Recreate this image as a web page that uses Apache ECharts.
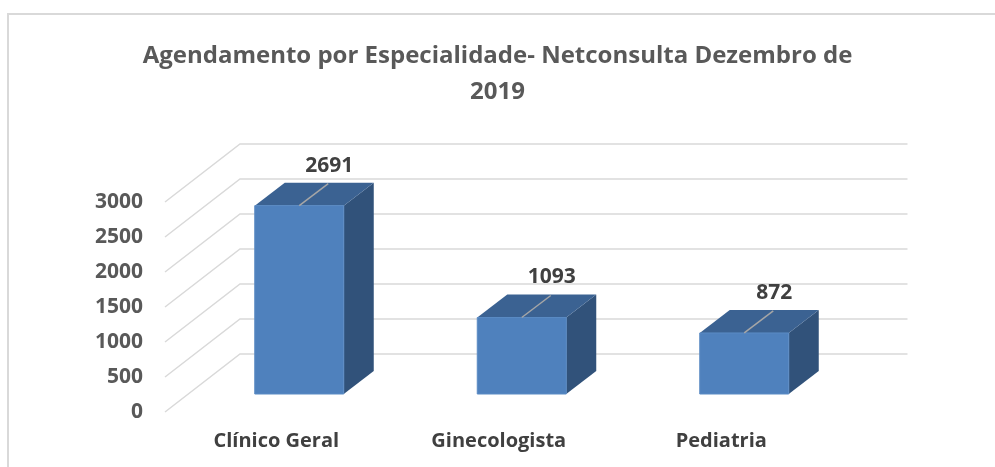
<!DOCTYPE html>
<html>
<head>
<meta charset="utf-8">
<script src="https://cdn.jsdelivr.net/npm/echarts@6/dist/echarts.min.js"></script>
<style>
  html, body { margin: 0; padding: 0; background: #fff; }
  #mainChart { width: 995px; height: 467px; }
</style>
</head>
<body>
<div id="mainChart"></div>
<script>
var categories = ['Clínico Geral', 'Ginecologista', 'Pediatria'];
var values = [2691, 1093, 872];
var tickValues = [0, 500, 1000, 1500, 2000, 2500, 3000];

var fontFamily = '"Open Sans", "Liberation Sans", sans-serif';
var floorDepth = [75, -58];   // front-left floor corner -> back wall
var barDepth = [30, -23];     // depth of each box

var myChart = echarts.init(document.getElementById('mainChart'));

// wall / floor grid lines drawn in perspective
function renderGridLine(params, api) {
    var cs = params.coordSys;
    var p = api.coord([0, api.value(1)]);
    var x0 = cs.x, y = p[1];
    return {
        type: 'polyline',
        shape: {
            points: [
                [x0, y],
                [x0 + floorDepth[0], y + floorDepth[1]],
                [x0 + cs.width + floorDepth[0], y + floorDepth[1]]
            ]
        },
        style: { stroke: '#D9D9D9', lineWidth: 1.5, fill: null },
        silent: true
    };
}

// 3D box with data label
function renderBox(params, api) {
    var idx = api.value(0), v = api.value(1);
    var top = api.coord([idx, v]);
    var base = api.coord([idx, 0]);
    var w = api.size([1, 0])[0] * 0.4;
    var x0 = top[0] - w / 2, x1 = top[0] + w / 2;
    var yt = top[1], yb = base[1];
    var dx = barDepth[0], dy = barDepth[1];
    return {
        type: 'group',
        children: [{
            type: 'polygon',
            shape: { points: [[x1, yt], [x1 + dx, yt + dy], [x1 + dx, yb + dy], [x1, yb]] },
            style: { fill: '#31527A' }
        }, {
            type: 'polygon',
            shape: { points: [[x0, yt], [x0 + dx, yt + dy], [x1 + dx, yt + dy], [x1, yt]] },
            style: { fill: '#3B6292' }
        }, {
            type: 'rect',
            shape: { x: x0, y: yt, width: w, height: yb - yt },
            style: { fill: '#4F81BD', stroke: '#5B8BC4', lineWidth: 1 }
        }, {
            type: 'line',
            shape: { x1: top[0], y1: yt, x2: top[0] + 29, y2: yt - 22 },
            style: { stroke: '#A6A6A6', lineWidth: 1.5 }
        }, {
            type: 'text',
            style: {
                text: String(v),
                x: top[0] + 30,
                y: yt - 40,
                align: 'center',
                verticalAlign: 'middle',
                font: 'bold 21px ' + fontFamily,
                fill: '#404040'
            }
        }]
    };
}

var boxData = values.map(function (v, i) { return [i, v]; });
var lineData = tickValues.map(function (v) { return [0, v]; });

myChart.setOption({
    animation: false,
    title: {
        text: 'Agendamento por Especialidade- Netconsulta Dezembro de\n2019',
        left: 'center',
        top: 38,
        padding: [0, 0, 0, 10],
        textStyle: {
            fontFamily: fontFamily,
            fontWeight: 'bold',
            fontSize: 24,
            lineHeight: 36,
            color: '#595959'
        }
    },
    graphic: [{
        type: 'rect',
        shape: { x: 8, y: 14, width: 1000, height: 500 },
        style: { fill: null, stroke: '#D9D9D9', lineWidth: 2 },
        silent: true
    }],
    grid: [
        // plane of the box fronts
        { left: 188, top: 184, width: 667.5, height: 210 },
        // front edge of the floor (axis labels)
        { left: 165, top: 202, width: 667.5, height: 210 }
    ],
    xAxis: [{
        gridIndex: 0, type: 'category', data: categories, show: false
    }, {
        gridIndex: 1, type: 'category', data: categories,
        axisLine: { show: false }, axisTick: { show: false },
        axisLabel: {
            margin: 19,
            fontFamily: fontFamily, fontWeight: 'bold', fontSize: 20, color: '#404040'
        }
    }],
    yAxis: [{
        gridIndex: 0, type: 'value', min: 0, max: 3000, interval: 500, show: false
    }, {
        gridIndex: 1, type: 'value', min: 0, max: 3000, interval: 500,
        axisLine: { show: false }, axisTick: { show: false }, splitLine: { show: false },
        axisLabel: {
            margin: 22,
            formatter: function (v) { return String(v); },
            fontFamily: fontFamily, fontWeight: 'bold', fontSize: 21, color: '#595959'
        }
    }],
    series: [{
        type: 'custom',
        xAxisIndex: 1, yAxisIndex: 1,
        renderItem: renderGridLine,
        encode: { x: 0, y: 1 },
        data: lineData,
        z: 1
    }, {
        type: 'custom',
        xAxisIndex: 0, yAxisIndex: 0,
        renderItem: renderBox,
        encode: { x: 0, y: 1 },
        data: boxData,
        z: 2
    }]
});
</script>
</body>
</html>
